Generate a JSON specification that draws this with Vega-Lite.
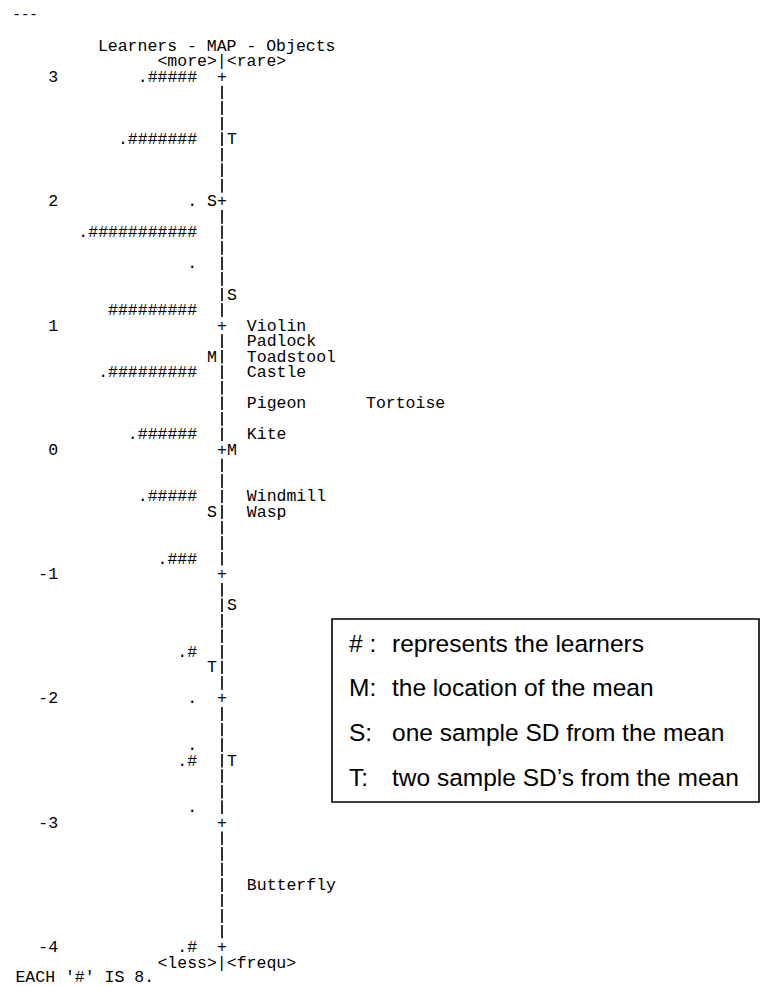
{
  "$schema": "https://vega.github.io/schema/vega-lite/v6.json",
  "width": 760,
  "height": 986,
  "padding": 0,
  "autosize": {"type": "none"},
  "background": "white",
  "config": {
    "view": {"stroke": null},
    "axis": {"disable": true},
    "text": {"font": "Liberation Mono", "fontSize": 16.5, "color": "black", "baseline": "middle"}
  },
  "datasets": {
    "scale": [
      {"measure": 3}, {"measure": 2}, {"measure": 1}, {"measure": 0},
      {"measure": -1}, {"measure": -2}, {"measure": -3}, {"measure": -4}
    ],
    "learners": [
      {"measure": 3.0, "hashes": ".#####"},
      {"measure": 2.5, "hashes": ".#######"},
      {"measure": 2.0, "hashes": "."},
      {"measure": 1.75, "hashes": ".###########"},
      {"measure": 1.5, "hashes": "."},
      {"measure": 1.125, "hashes": "#########"},
      {"measure": 0.625, "hashes": ".#########"},
      {"measure": 0.125, "hashes": ".######"},
      {"measure": -0.375, "hashes": ".#####"},
      {"measure": -0.875, "hashes": ".###"},
      {"measure": -1.625, "hashes": ".#"},
      {"measure": -2.0, "hashes": "."},
      {"measure": -2.375, "hashes": "."},
      {"measure": -2.5, "hashes": ".#"},
      {"measure": -2.875, "hashes": "."},
      {"measure": -4.0, "hashes": ".#"}
    ],
    "learnerMarks": [
      {"measure": 2.0, "mark": "S"},
      {"measure": 0.75, "mark": "M"},
      {"measure": -0.5, "mark": "S"},
      {"measure": -1.75, "mark": "T"}
    ],
    "itemMarks": [
      {"measure": 2.5, "mark": "T"},
      {"measure": 1.25, "mark": "S"},
      {"measure": 0.0, "mark": "M"},
      {"measure": -1.25, "mark": "S"},
      {"measure": -2.5, "mark": "T"}
    ],
    "items": [
      {"measure": 1.0, "item": "Violin", "slot": 1},
      {"measure": 0.875, "item": "Padlock", "slot": 1},
      {"measure": 0.75, "item": "Toadstool", "slot": 1},
      {"measure": 0.625, "item": "Castle", "slot": 1},
      {"measure": 0.375, "item": "Pigeon", "slot": 1},
      {"measure": 0.375, "item": "Tortoise", "slot": 2},
      {"measure": 0.125, "item": "Kite", "slot": 1},
      {"measure": -0.375, "item": "Windmill", "slot": 1},
      {"measure": -0.5, "item": "Wasp", "slot": 1},
      {"measure": -3.5, "item": "Butterfly", "slot": 1}
    ],
    "legend": [
      {"symbol": "#", "key": "# :", "desc": "represents the learners"},
      {"symbol": "M", "key": "M:", "desc": "the location of the mean"},
      {"symbol": "S", "key": "S:", "desc": "one sample SD from the mean"},
      {"symbol": "T", "key": "T:", "desc": "two sample SD’s from the mean"}
    ]
  },
  "layer": [
    {
      "layer": [
        {
          "data": {"name": "scale"},
          "mark": {
            "type": "rule",
            "color": "#333333",
            "strokeWidth": 1,
            "strokeDash": [13, 2.54, 13, 2.54, 13, 2.54, 13, 2.54, 13, 2.54, 13, 2.54, 13, 18.06],
            "strokeDashOffset": 115.26
          },
          "encoding": {
            "x": {"datum": 0, "type": "quantitative", "scale": {"domain": [-22.357, 54.179], "nice": false, "zero": false}},
            "y": {"datum": 3, "type": "quantitative", "scale": {"domain": [-4.3135, 3.6195], "nice": false, "zero": false}},
            "y2": {"datum": -4}
          }
        },
        {
          "data": {"name": "scale"},
          "mark": {"type": "text", "align": "center"},
          "encoding": {
            "x": {"datum": 0, "type": "quantitative"},
            "y": {"field": "measure", "type": "quantitative"},
            "text": {"value": "+"}
          }
        },
        {
          "data": {"name": "scale"},
          "mark": {"type": "text", "align": "right"},
          "encoding": {
            "x": {"datum": -16.5, "type": "quantitative"},
            "y": {"field": "measure", "type": "quantitative"},
            "text": {"field": "measure", "type": "nominal"}
          }
        },
        {
          "data": {"name": "learners"},
          "mark": {"type": "text", "align": "right"},
          "encoding": {
            "x": {"datum": -2.5, "type": "quantitative"},
            "y": {"field": "measure", "type": "quantitative"},
            "text": {"field": "hashes", "type": "nominal"}
          }
        },
        {
          "data": {"name": "learnerMarks"},
          "mark": {"type": "text", "align": "center"},
          "encoding": {
            "x": {"datum": -1, "type": "quantitative"},
            "y": {"field": "measure", "type": "quantitative"},
            "text": {"field": "mark", "type": "nominal"}
          }
        },
        {
          "data": {"name": "itemMarks"},
          "mark": {"type": "text", "align": "center"},
          "encoding": {
            "x": {"datum": 1, "type": "quantitative"},
            "y": {"field": "measure", "type": "quantitative"},
            "text": {"field": "mark", "type": "nominal"}
          }
        },
        {
          "data": {"name": "items"},
          "transform": [{"filter": "datum.slot === 1"}],
          "mark": {"type": "text", "align": "left"},
          "encoding": {
            "x": {"datum": 2.5, "type": "quantitative"},
            "y": {"field": "measure", "type": "quantitative"},
            "text": {"field": "item", "type": "nominal"}
          }
        },
        {
          "data": {"name": "items"},
          "transform": [{"filter": "datum.slot === 2"}],
          "mark": {"type": "text", "align": "left"},
          "encoding": {
            "x": {"datum": 14.5, "type": "quantitative"},
            "y": {"field": "measure", "type": "quantitative"},
            "text": {"field": "item", "type": "nominal"}
          }
        },
        {
          "data": {"values": [{}]},
          "mark": {"type": "text", "align": "left", "fontSize": 14},
          "encoding": {
            "x": {"datum": -21.1, "type": "quantitative"},
            "y": {"datum": 3.5, "type": "quantitative"},
            "text": {"value": "---"}
          }
        },
        {
          "data": {"values": [{}]},
          "mark": {"type": "text", "align": "left"},
          "encoding": {
            "x": {"datum": -12.5, "type": "quantitative"},
            "y": {"datum": 3.25, "type": "quantitative"},
            "text": {"value": "Learners - MAP - Objects"}
          }
        },
        {
          "data": {"values": [{}]},
          "mark": {"type": "text", "align": "left"},
          "encoding": {
            "x": {"datum": -6.5, "type": "quantitative"},
            "y": {"datum": 3.125, "type": "quantitative"},
            "text": {"value": "<more>|<rare>"}
          }
        },
        {
          "data": {"values": [{}]},
          "mark": {"type": "text", "align": "left"},
          "encoding": {
            "x": {"datum": -6.5, "type": "quantitative"},
            "y": {"datum": -4.125, "type": "quantitative"},
            "text": {"value": "<less>|<frequ>"}
          }
        },
        {
          "data": {"values": [{}]},
          "mark": {"type": "text", "align": "left"},
          "encoding": {
            "x": {"datum": -20.8, "type": "quantitative"},
            "y": {"datum": -4.245, "type": "quantitative"},
            "text": {"value": "EACH '#' IS 8."}
          }
        },
        {
          "data": {"values": [{}]},
          "mark": {"type": "rect", "fill": "transparent", "stroke": "black", "strokeWidth": 1.6},
          "encoding": {
            "x": {"datum": 11.077, "type": "quantitative"},
            "x2": {"datum": 54.079},
            "y": {"datum": -1.3608, "type": "quantitative"},
            "y2": {"datum": -2.8331}
          }
        }
      ]
    },
    {
      "data": {"name": "legend"},
      "layer": [
        {
          "mark": {"type": "text", "align": "left", "font": "Liberation Sans", "fontSize": 24.5},
          "encoding": {
            "x": {"datum": 12.79, "type": "quantitative"},
            "y": {"field": "symbol", "type": "nominal", "sort": null, "scale": {"type": "point", "domain": ["#", "M", "S", "T"], "range": [644.5, 778.5], "padding": 0}},
            "text": {"field": "key", "type": "nominal"}
          }
        },
        {
          "mark": {"type": "text", "align": "left", "font": "Liberation Sans", "fontSize": 24.5},
          "encoding": {
            "x": {"datum": 17.12, "type": "quantitative"},
            "y": {"field": "symbol", "type": "nominal", "sort": null},
            "text": {"field": "desc", "type": "nominal"}
          }
        }
      ]
    }
  ],
  "resolve": {"scale": {"y": "independent"}}
}
